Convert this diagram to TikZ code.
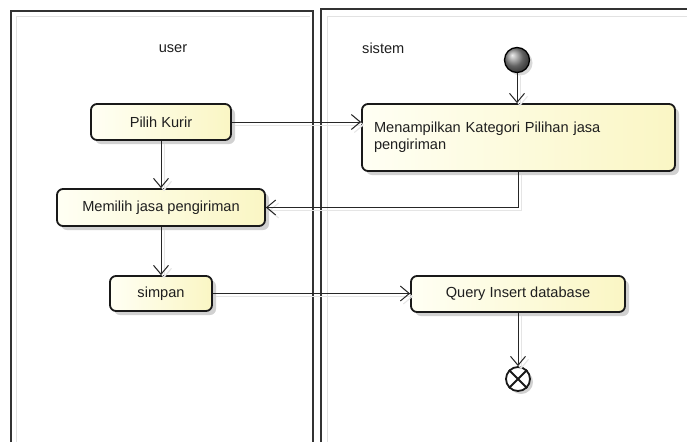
\documentclass[tikz,border=0pt]{standalone}
\usepackage{fontspec}
\setmainfont{Liberation Sans}
\usetikzlibrary{arrows.meta,shadows,shapes.misc}
\definecolor{boxleft}{HTML}{FFFFF4}
\definecolor{boxright}{HTML}{FAF6C4}
\definecolor{laneline}{HTML}{333333}
\definecolor{laneinner}{HTML}{E2E2E2}
\begin{document}
\begin{tikzpicture}[x=1pt,y=-1pt,
  every node/.style={font=\fontsize{14.6}{17}\selectfont, text=black!88},
  action/.style={draw=black!90, line width=1.8pt, rounded corners=6pt,
    left color=boxleft, right color=boxright, inner sep=0pt,
    drop shadow={shadow xshift=4pt, shadow yshift=-4pt, fill=black!18, opacity=1}},
  flow/.style={draw=black!85, line width=1pt,
    -{Straight Barb[length=9pt,width=15pt,line width=1pt]},
    preaction={draw=black!10, line width=1pt, transform canvas={xshift=3pt,yshift=-3pt}}},
  lanelbl/.style={inner sep=0pt}]
\useasboundingbox (0,0) rectangle (687,442);
\fill[white] (0,0) rectangle (687,442);

% swimlane frames
\draw[laneinner, line width=1pt] (16,442) -- (16,16) -- (310,16);
\draw[laneline, line width=1.3pt] (11,442) -- (11,11) -- (313,11) -- (313,442);
\draw[laneinner, line width=1pt] (327,442) -- (327,16) -- (687,16);
\draw[laneline, line width=1.3pt] (321,442) -- (321,9) -- (687,9);

\node[lanelbl] (userlbl) at (173,49) {user};
\node[lanelbl, anchor=west] (sistemlbl) at (362,48) {sistem};

% actions
\node[action, minimum width=140pt, minimum height=36pt] (pilih) at (161,122) {Pilih Kurir};
\node[action, minimum width=313pt, minimum height=67pt, text width=289pt, align=left,
      inner xsep=12pt] (tampil) at (518.5,137.5)
      {Menampilkan Kategori Pilihan jasa\\pengiriman};
\node[action, minimum width=208pt, minimum height=37pt] (memilih) at (161,207.5) {Memilih jasa pengiriman};
\node[action, minimum width=102pt, minimum height=35pt] (simpan) at (161,293.5) {simpan};
\node[action, minimum width=214pt, minimum height=36pt] (query) at (518,294) {Query Insert database};

% initial and final nodes
\node[circle, draw=black, line width=1.3pt, minimum size=25pt, inner sep=0pt,
      shading=ball, ball color=black!45,
      drop shadow={shadow xshift=3pt, shadow yshift=-3pt, fill=black!15, opacity=1}] (start) at (517,60) {};
\node[circle, draw=black!90, line width=1.8pt, minimum size=24pt, inner sep=0pt, fill=white,
      drop shadow={shadow xshift=3pt, shadow yshift=-3pt, fill=black!18, opacity=1}] (final) at (518,379) {};
\draw[black!90, line width=1.8pt] (final.north west) -- (final.south east)
      (final.north east) -- (final.south west);

% control flows
\draw[flow] (start) -- (tampil.north -| start);
\draw[flow] (pilih) -- (tampil.west |- pilih);
\draw[flow] (pilih.south -| memilih) -- (memilih.north);
\draw[flow] (tampil.south) |- (memilih.east);
\draw[flow] (memilih) -- (simpan);
\draw[flow] (simpan) -- (query.west |- simpan);
\draw[flow] (query) -- (final);
\end{tikzpicture}
\end{document}
